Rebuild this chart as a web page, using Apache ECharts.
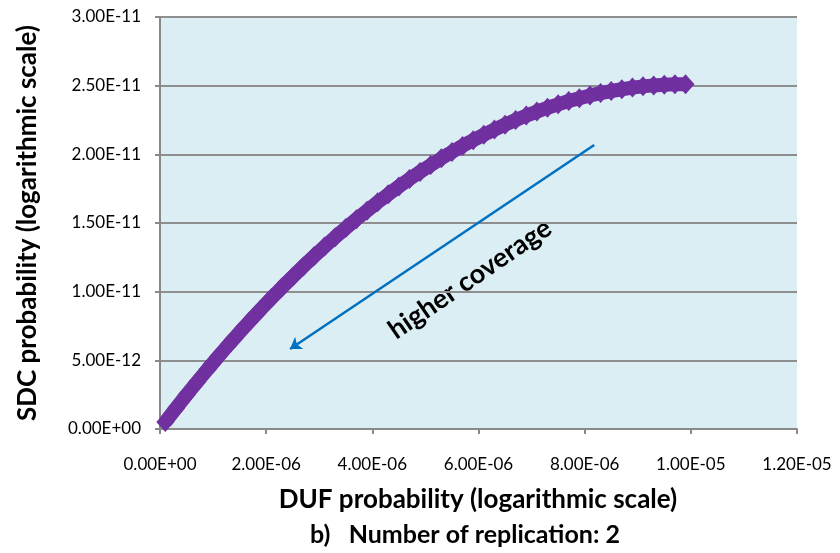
<!DOCTYPE html>
<html>
<head>
<meta charset="utf-8">
<script src="https://cdn.jsdelivr.net/npm/echarts@6.0.0/dist/echarts.min.js"></script>
<style>
  html, body { margin: 0; padding: 0; background: #fff; }
  #chart { width: 840px; height: 553px; }
</style>
</head>
<body>
<div id="chart"></div>
<script>
// DUF probability in units of 1e-6
var dufE6 = [0.1, 0.3, 0.5, 0.7, 0.9, 1.1, 1.3, 1.5, 1.7, 1.9,
  2.1, 2.3, 2.5, 2.7, 2.9, 3.1, 3.3, 3.5, 3.7, 3.9,
  4.1, 4.3, 4.5, 4.7, 4.9, 5.1, 5.3, 5.5, 5.7, 5.9,
  6.1, 6.3, 6.5, 6.7, 6.9, 7.1, 7.3, 7.5, 7.7, 7.9,
  8.1, 8.3, 8.5, 8.7, 8.9, 9.1, 9.3, 9.5, 9.7, 9.9];
// SDC probability in units of 1e-12
var sdcE12 = [0.51, 1.50, 2.48, 3.43, 4.36, 5.28, 6.17, 7.04, 7.89, 8.72,
  9.53, 10.32, 11.09, 11.84, 12.57, 13.28, 13.97, 14.63, 15.28, 15.90,
  16.51, 17.09, 17.66, 18.20, 18.72, 19.22, 19.71, 20.17, 20.61, 21.03,
  21.43, 21.80, 22.16, 22.50, 22.82, 23.11, 23.39, 23.64, 23.88, 24.09,
  24.29, 24.46, 24.61, 24.74, 24.86, 24.95, 25.02, 25.07, 25.10, 25.10];

var arrowFrom = [8.18e-6, 2.068e-11];
var arrowTo = [2.45e-6, 5.83e-12];

var points = dufE6.map(function (x, i) { return [x * 1e-6, sdcE12[i] * 1e-12]; });

function sci(v) {
  if (Math.abs(v) < 1e-30) return '0.00E+00';
  var p = v.toExponential(2).split('e');
  var e = parseInt(p[1], 10);
  var a = Math.abs(e);
  return p[0] + 'E' + (e < 0 ? '-' : '+') + (a < 10 ? '0' : '') + a;
}

var font = 'Lato, "Open Sans", sans-serif';
var axisGrey = '#898989';

var myChart = echarts.init(document.getElementById('chart'));
var option = {
  animation: false,
  grid: {
    left: 160, right: 43, top: 17, bottom: 124,
    show: true, backgroundColor: '#dbeef4', borderWidth: 0
  },
  xAxis: {
    type: 'value',
    min: 0, max: 1.2e-5, interval: 2e-6,
    axisLine: { lineStyle: { color: axisGrey, width: 2 } },
    axisTick: { show: true, length: 5, lineStyle: { color: axisGrey, width: 2 } },
    splitLine: { show: false },
    axisLabel: { formatter: sci, color: '#000', fontFamily: font, fontSize: 17, margin: 27 }
  },
  yAxis: {
    type: 'value',
    min: 0, max: 3e-11, interval: 5e-12,
    name: 'SDC probability (logarithmic scale)',
    nameLocation: 'middle', nameGap: 119, nameRotate: 90,
    nameTextStyle: { color: '#000', fontFamily: font, fontWeight: 'bold', fontSize: 26 },
    axisLine: { show: true, lineStyle: { color: axisGrey, width: 2 } },
    axisTick: { show: true, length: 5, lineStyle: { color: axisGrey, width: 2 } },
    splitLine: { lineStyle: { color: '#8e8e8e', width: 2 } },
    axisLabel: { formatter: sci, color: '#000', fontFamily: font, fontSize: 17, margin: 19 }
  },
  series: [
    {
      type: 'line',
      data: points,
      symbol: 'diamond',
      symbolSize: [18, 20],
      showAllSymbol: true,
      itemStyle: { color: '#7030a0', borderWidth: 0 },
      lineStyle: { color: '#7030a0', width: 14 },
      z: 3
    },
    {
      type: 'lines',
      coordinateSystem: 'cartesian2d',
      symbol: ['none', 'arrow'],
      symbolSize: 11,
      lineStyle: { color: '#0070c0', width: 2.5, opacity: 1 },
      data: [{ coords: [arrowFrom, arrowTo] }],
      z: 4
    }
  ],
  graphic: [
    {
      type: 'text', x: 470, y: 279, rotation: 0.6,
      style: {
        text: 'higher coverage', font: 'bold 27px ' + font, fill: '#000',
        align: 'center', verticalAlign: 'middle',
        textAlign: 'center', textVerticalAlign: 'middle'
      }
    },
    {
      type: 'text', x: 478, y: 500,
      style: {
        text: 'DUF probability (logarithmic scale)', font: 'bold 26px ' + font, fill: '#000',
        align: 'center', verticalAlign: 'middle',
        textAlign: 'center', textVerticalAlign: 'middle'
      }
    },
    {
      type: 'text', x: 465, y: 535,
      style: {
        text: 'b)   Number of replication: 2', font: 'bold 25px ' + font, fill: '#000',
        align: 'center', verticalAlign: 'middle',
        textAlign: 'center', textVerticalAlign: 'middle'
      }
    }
  ]
};
myChart.setOption(option);
</script>
</body>
</html>
